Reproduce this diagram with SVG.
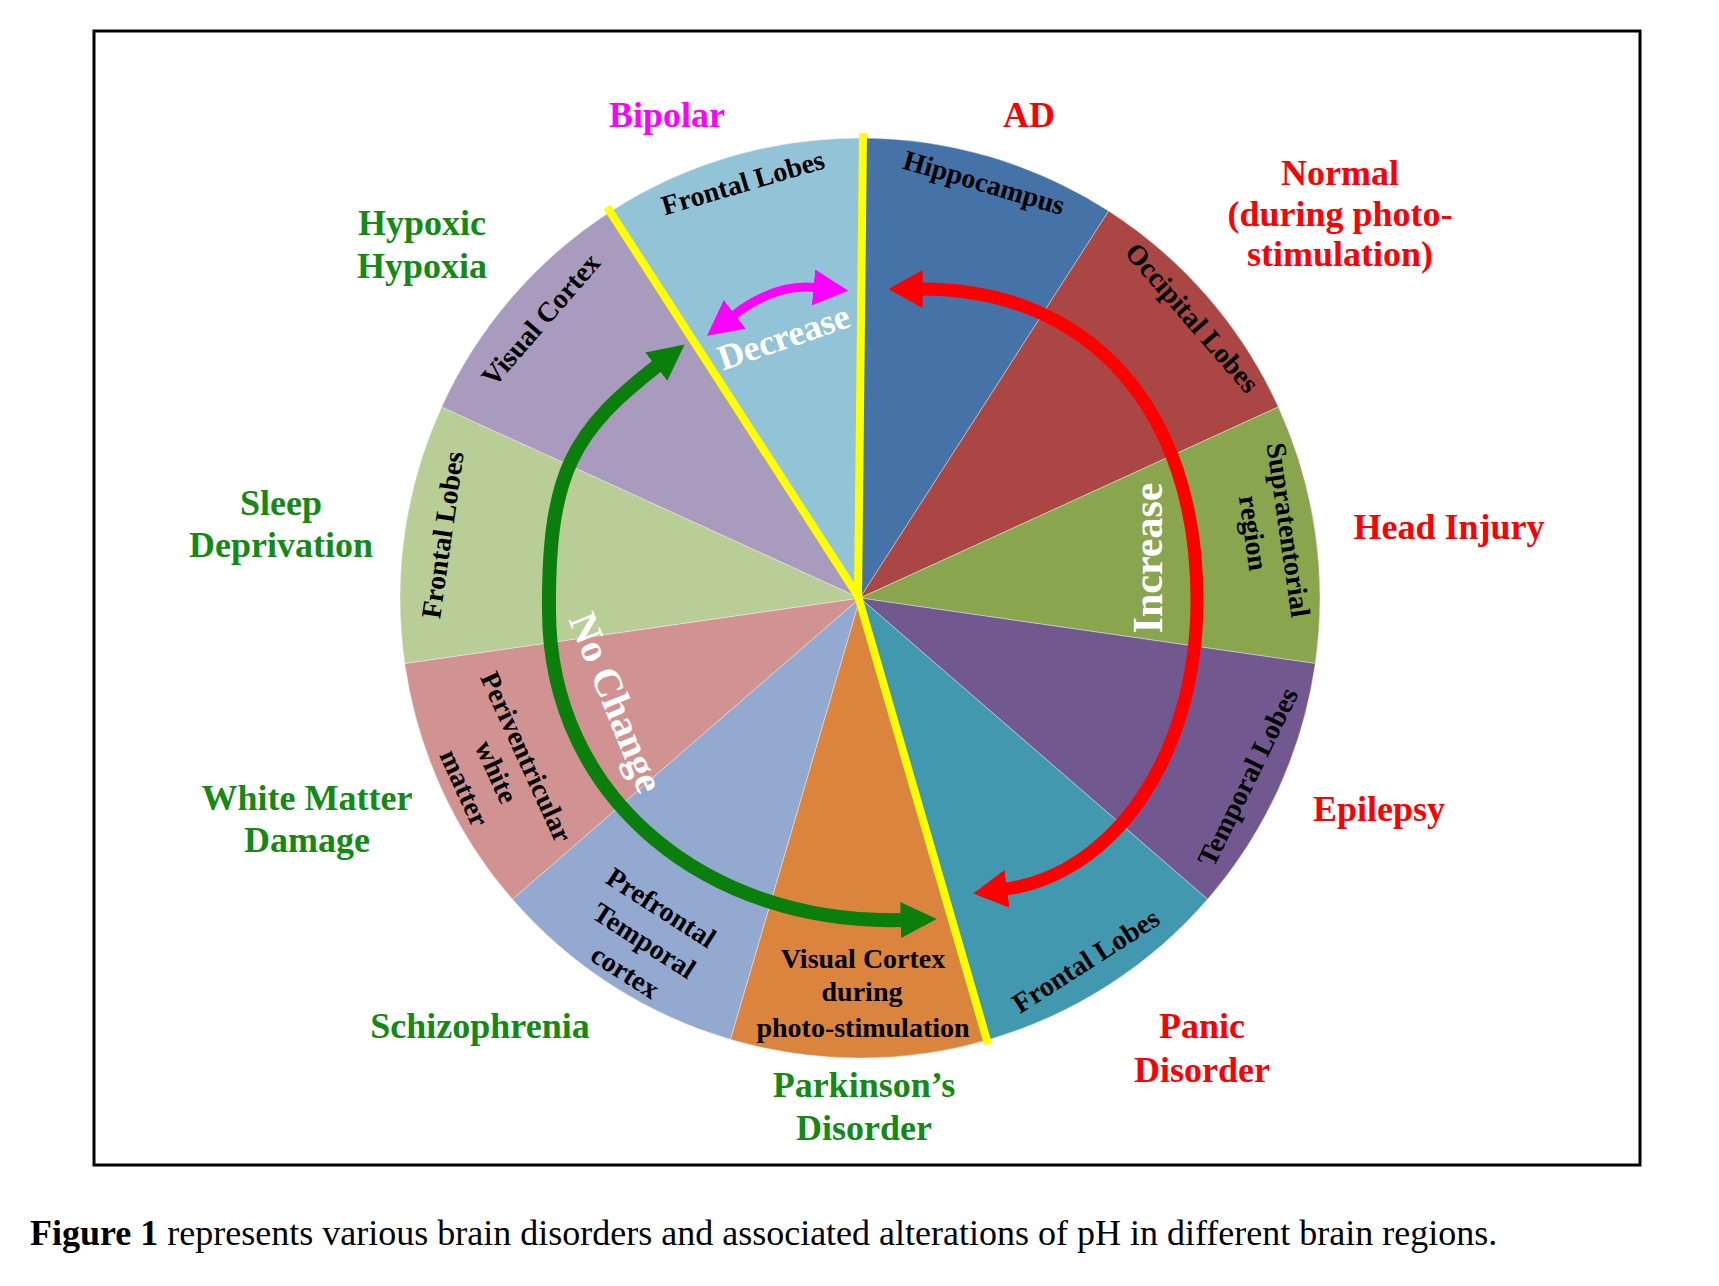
<svg xmlns="http://www.w3.org/2000/svg" width="1719" height="1286" viewBox="0 0 1719 1286">
<style>
.t{font-family:"Liberation Serif","Times New Roman",serif;font-weight:bold;text-anchor:middle}
.in{font-size:28px;fill:#000}
.out{font-size:36px}
.g{fill:#138A13}.r{fill:#FF0000}.m{fill:#FF00FF}.w{fill:#FFFFFF}
.sl{stroke:#FFFFFF;stroke-opacity:0.35;stroke-width:1}
.yl{stroke:#FFFF00;stroke-width:8;fill:none}
.cap{font-family:"Liberation Serif","Times New Roman",serif;font-size:36px;fill:#000}
</style>
<defs>
<marker id="hR" markerUnits="userSpaceOnUse" viewBox="0 0 34 38" markerWidth="34" markerHeight="38" refX="1" refY="19" orient="auto-start-reverse"><path d="M0,0 L34,19 L0,38 Z" fill="#FF0000"/></marker>
<marker id="hG" markerUnits="userSpaceOnUse" viewBox="0 0 36 36" markerWidth="36" markerHeight="36" refX="1" refY="18" orient="auto-start-reverse"><path d="M0,0 L36,18 L0,36 Z" fill="#0B7F0B"/></marker>
<marker id="hM" markerUnits="userSpaceOnUse" viewBox="0 0 35 36" markerWidth="35" markerHeight="36" refX="1" refY="18" orient="auto-start-reverse"><path d="M0,0 L35,18 L0,36 Z" fill="#FF00FF"/></marker>
</defs>
<rect x="0" y="0" width="1719" height="1286" fill="#FFFFFF"/>
<rect id="frame" x="94" y="31" width="1546" height="1134" fill="none" stroke="#000" stroke-width="3"/>

<g id="pie" transform="translate(860,598)">
  <g id="slice-hippocampus"><path class="sl" fill="#4572A7" d="M0,0 L0,-460 A460,460 0 0 1 248.7,-387 Z"/></g>
  <g id="slice-occipital"><path class="sl" fill="#AA4643" d="M0,0 L248.7,-387 A460,460 0 0 1 418.4,-191.1 Z"/></g>
  <g id="slice-supratentorial"><path class="sl" fill="#89A54E" d="M0,0 L418.4,-191.1 A460,460 0 0 1 455.3,65.5 Z"/></g>
  <g id="slice-temporal"><path class="sl" fill="#71588F" d="M0,0 L455.3,65.5 A460,460 0 0 1 347.6,301.3 Z"/></g>
  <g id="slice-frontal-br"><path class="sl" fill="#4198AF" d="M0,0 L347.6,301.3 A460,460 0 0 1 129.6,441.4 Z"/></g>
  <g id="slice-visual-photo"><path class="sl" fill="#DB843D" d="M0,0 L129.6,441.4 A460,460 0 0 1 -129.6,441.4 Z"/></g>
  <g id="slice-prefrontal"><path class="sl" fill="#93A9CF" d="M0,0 L-129.6,441.4 A460,460 0 0 1 -347.6,301.3 Z"/></g>
  <g id="slice-periventricular"><path class="sl" fill="#D19392" d="M0,0 L-347.6,301.3 A460,460 0 0 1 -455.3,65.5 Z"/></g>
  <g id="slice-frontal-left"><path class="sl" fill="#B9CD96" d="M0,0 L-455.3,65.5 A460,460 0 0 1 -418.4,-191.1 Z"/></g>
  <g id="slice-visual-cortex"><path class="sl" fill="#A99BBD" d="M0,0 L-418.4,-191.1 A460,460 0 0 1 -248.7,-387 Z"/></g>
  <g id="slice-frontal-top"><path class="sl" fill="#92C3D6" d="M0,0 L-248.7,-387 A460,460 0 0 1 0,-460 Z"/></g>
</g>

<g id="dividers">
  <line class="yl" x1="863" y1="133" x2="858" y2="598"/>
  <line class="yl" x1="607" y1="207" x2="860" y2="599"/>
  <line class="yl" x1="858" y1="596" x2="988" y2="1044"/>
</g>

<g id="connectors">
  <path id="arrow-increase" d="M921.6,289 C1090,289 1197,410 1197,600 C1197,760 1110,875 1006,889" fill="none" stroke="#FF0000" stroke-width="13" marker-start="url(#hR)" marker-end="url(#hR)"/>
  <path id="arrow-nochange" d="M657,366 C575,430 548,470 549,610 C549,800 710,925 901.7,920" fill="none" stroke="#0B7F0B" stroke-width="14" marker-start="url(#hG)" marker-end="url(#hG)"/>
  <path id="arrow-decrease" d="M734,315 Q774.75,283.8 814.5,287.5" fill="none" stroke="#FF00FF" stroke-width="9" marker-start="url(#hM)" marker-end="url(#hM)"/>
  <text class="t w" font-size="42" transform="translate(1149,558) rotate(-90)" y="13">Increase</text>
  <text class="t w" font-size="40" transform="translate(615,703) rotate(68)" y="12">No Change</text>
  <text class="t w" font-size="36" transform="translate(784,338) rotate(-19)" y="11">Decrease</text>
</g>

<g id="region-labels">
  <g id="lbl-hippocampus"><text class="t in" transform="translate(984,183) rotate(16.4)" y="9">Hippocampus</text></g>
  <g id="lbl-frontal-top"><text class="t in" transform="translate(743,183) rotate(-16.4)" y="9">Frontal Lobes</text></g>
  <g id="lbl-occipital"><text class="t in" transform="translate(1192,318) rotate(49.1)" y="9">Occipital Lobes</text></g>
  <g id="lbl-supratentorial">
    <text class="t in" transform="translate(1288,530) rotate(81.8)" y="9">Supratentorial</text>
    <text class="t in" transform="translate(1253,533) rotate(81.8)" y="9">region</text>
  </g>
  <g id="lbl-temporal"><text class="t in" transform="translate(1248,777) rotate(-64)" y="9">Temporal Lobes</text></g>
  <g id="lbl-frontal-br"><text class="t in" transform="translate(1086,961) rotate(-32.7)" y="9">Frontal Lobes</text></g>
  <g id="lbl-visual-photo">
    <text class="t in" x="863" y="968">Visual Cortex</text>
    <text class="t in" x="862" y="1001">during</text>
    <text class="t in" x="863" y="1037">photo-stimulation</text>
  </g>
  <g id="lbl-prefrontal">
    <text class="t in" transform="translate(661,908) rotate(32.7)" y="9">Prefrontal</text>
    <text class="t in" transform="translate(644,941) rotate(32.7)" y="9">Temporal</text>
    <text class="t in" transform="translate(625,972) rotate(32.7)" y="9">cortex</text>
  </g>
  <g id="lbl-periventricular">
    <text class="t in" transform="translate(526,757) rotate(65.5)" y="9">Periventricular</text>
    <text class="t in" transform="translate(496,772) rotate(65.5)" y="9">white</text>
    <text class="t in" transform="translate(464,788) rotate(65.5)" y="9">matter</text>
  </g>
  <g id="lbl-frontal-left"><text class="t in" transform="translate(443,535) rotate(-81.8)" y="9">Frontal Lobes</text></g>
  <g id="lbl-visual-cortex"><text class="t in" transform="translate(541,320) rotate(-49.1)" y="9">Visual Cortex</text></g>
</g>

<g id="disorders">
  <g id="d-bipolar"><text class="t out m" x="667" y="127">Bipolar</text></g>
  <g id="d-ad"><text class="t out r" x="1029" y="127">AD</text></g>
  <g id="d-normal"><text class="t out r" x="1340" y="185">Normal<tspan x="1340" y="226">(during photo-</tspan><tspan x="1340" y="266">stimulation)</tspan></text></g>
  <g id="d-head"><text class="t out r" x="1449" y="539">Head Injury</text></g>
  <g id="d-epilepsy"><text class="t out r" x="1379" y="821">Epilepsy</text></g>
  <g id="d-panic"><text class="t out r" x="1202" y="1038">Panic<tspan x="1202" y="1082">Disorder</tspan></text></g>
  <g id="d-parkinson"><text class="t out g" x="864" y="1097">Parkinson’s<tspan x="864" y="1140">Disorder</tspan></text></g>
  <g id="d-schizophrenia"><text class="t out g" x="480" y="1038">Schizophrenia</text></g>
  <g id="d-whitematter"><text class="t out g" x="307" y="810">White Matter<tspan x="307" y="852">Damage</tspan></text></g>
  <g id="d-sleep"><text class="t out g" x="281" y="515">Sleep<tspan x="281" y="557">Deprivation</tspan></text></g>
  <g id="d-hypoxic"><text class="t out g" x="422" y="235">Hypoxic<tspan x="422" y="278">Hypoxia</tspan></text></g>
</g>

<text id="caption" class="cap" x="30" y="1245"><tspan font-weight="bold">Figure 1</tspan> represents various brain disorders and associated alterations of pH in different brain regions.</text>
</svg>
